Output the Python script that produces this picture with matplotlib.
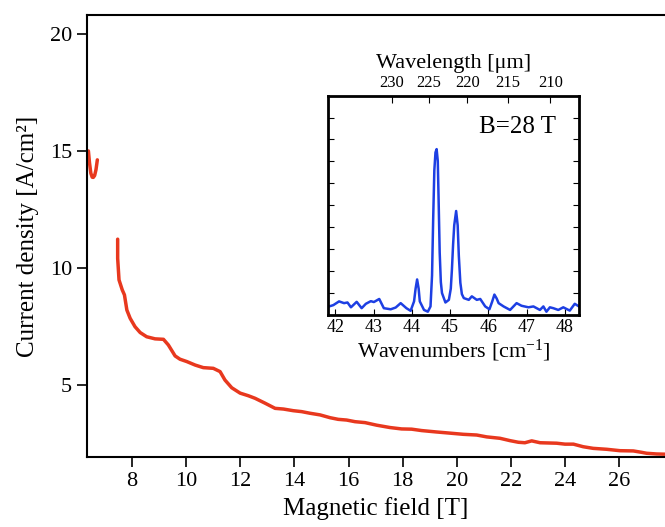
import numpy as np
import matplotlib
matplotlib.use("Agg")
import matplotlib.pyplot as plt

plt.rcParams['font.family'] = ['Liberation Serif', 'DejaVu Serif']
plt.rcParams['mathtext.fontset'] = 'custom'
plt.rcParams['mathtext.rm'] = 'Liberation Serif'
plt.rcParams['mathtext.it'] = 'Liberation Serif:italic'

# current density vs magnetic field (two pieces)
field_a = [6.40, 6.44, 6.49, 6.54, 6.58, 6.63, 6.68, 6.71, 6.73]
density_a = [15.0, 14.5, 14.05, 13.88, 13.87, 13.95, 14.2, 14.45, 14.62]

field_b = [7.48, 7.48, 7.53, 7.65, 7.73, 7.82, 7.94, 8.12, 8.31, 8.55, 8.86, 9.17,
           9.35, 9.60, 9.78, 10.03, 10.34, 10.64, 11.01, 11.26, 11.44, 11.69, 12.00,
           12.30, 12.55, 12.92, 13.29, 13.60, 13.96, 14.27, 14.58, 14.95, 15.32,
           15.62, 15.93, 16.24, 16.61, 17.04, 17.53, 17.96, 18.33, 18.70, 19.25,
           19.75, 20.24, 20.73, 21.10, 21.59, 21.96, 22.27, 22.51, 22.76, 23.07,
           23.68, 23.99, 24.30, 24.66, 25.03, 25.53, 26.02, 26.51, 26.82, 27.00,
           27.37, 27.70]
density_b = [11.23, 10.41, 9.49, 9.06, 8.85, 8.20, 7.85, 7.49, 7.24, 7.06, 6.97, 6.95,
             6.71, 6.24, 6.10, 6.00, 5.85, 5.74, 5.71, 5.57, 5.21, 4.88, 4.65,
             4.54, 4.43, 4.22, 4.00, 3.97, 3.90, 3.86, 3.79, 3.72, 3.60,
             3.53, 3.50, 3.43, 3.39, 3.28, 3.18, 3.12, 3.11, 3.05, 2.99,
             2.94, 2.89, 2.86, 2.78, 2.72, 2.62, 2.55, 2.53, 2.61, 2.53,
             2.51, 2.47, 2.47, 2.36, 2.29, 2.25, 2.19, 2.18, 2.12, 2.08,
             2.05, 2.04]

# inset spectrum at B = 28 T
wavenumber = [41.84, 41.95, 42.10, 42.23, 42.32, 42.41, 42.56, 42.69, 42.80, 42.93,
              43.01, 43.15, 43.27, 43.45, 43.58, 43.71, 43.86, 43.97, 44.06, 44.10,
              44.14, 44.18, 44.21, 44.32, 44.42, 44.49, 44.53, 44.56, 44.59, 44.62,
              44.65, 44.68, 44.70, 44.73, 44.76, 44.79, 44.88, 44.97, 45.02, 45.05,
              45.08, 45.11, 45.16, 45.20, 45.23, 45.27, 45.31, 45.36, 45.49, 45.57,
              45.70, 45.79, 45.92, 46.03, 46.10, 46.16, 46.22, 46.27, 46.40, 46.57,
              46.74, 46.87, 47.05, 47.18, 47.35, 47.44, 47.52, 47.61, 47.70, 47.83,
              47.96, 48.13, 48.26, 48.37]
intensity = [0.39, 0.45, 0.62, 0.54, 0.57, 0.35, 0.60, 0.31, 0.51, 0.63,
             0.59, 0.73, 0.31, 0.26, 0.34, 0.54, 0.31, 0.19, 0.62, 1.20,
             1.62, 1.20, 0.62, 0.23, 0.15, 0.39, 1.80, 4.40, 6.60, 7.41,
             7.56, 7.02, 5.40, 2.85, 1.50, 1.00, 0.57, 0.69, 1.20, 2.08,
             3.20, 4.09, 4.74, 4.09, 2.70, 1.47, 0.95, 0.77, 0.69, 0.85,
             0.69, 0.73, 0.39, 0.26, 0.60, 0.93, 0.75, 0.54, 0.39, 0.23,
             0.54, 0.42, 0.35, 0.39, 0.23, 0.39, 0.15, 0.35, 0.31, 0.23,
             0.35, 0.20, 0.51, 0.39]

x_ticks = [8, 10, 12, 14, 16, 18, 20, 22, 24, 26]
y_ticks = [5, 10, 15, 20]
inset_ticks = [42, 43, 44, 45, 46, 47, 48]
wavelength_ticks = [230, 225, 220, 215, 210]

red = '#e8381e'
blue = '#1d3fe3'

fig = plt.figure(figsize=(6.65, 5.27), dpi=100)
ax = fig.add_axes([0.1313, 0.1328, 0.8687, 0.8387])
ax.plot(field_a, density_a, color=red, lw=2.5, solid_capstyle='round')
ax.plot(field_b, density_b, color=red, lw=2.5, solid_capstyle='round',
        solid_joinstyle='round')
ax.set_xlim(6.36, 27.68)
ax.set_ylim(1.92, 20.81)
ax.set_xticks(x_ticks)
ax.set_yticks(y_ticks)
ax.tick_params(direction='out', length=7, width=1.2, labelsize=16, pad=4)
ax.spines['right'].set_visible(False)
for s in ['left', 'bottom', 'top']:
    ax.spines[s].set_linewidth(1.5)
ax.set_xlabel('Magnetic field [T]', fontsize=18, labelpad=4)
ax.set_ylabel('Current density [A/cm²]', fontsize=18, labelpad=8)

# inset
ins = fig.add_axes([0.4932, 0.4023, 0.3774, 0.4163])
ins.plot(wavenumber, intensity, color=blue, lw=1.8, solid_joinstyle='round')
ins.set_xlim(41.81, 48.37)
ins.set_ylim(0, 10)
ins.set_xticks(inset_ticks)
ins.set_yticks(range(1, 10))
ins.tick_params(axis='y', direction='in', length=4, width=0.8, left=True, right=True,
                labelleft=False)
ins.tick_params(axis='x', direction='in', length=4, width=0.8, labelsize=13, pad=3)
for s in ins.spines.values():
    s.set_linewidth(2)
ins.set_xlabel(r'Wavenumbers [cm$^{-1}$]', fontsize=16, labelpad=1)
ins.text(0.91, 0.855, 'B=28 T', transform=ins.transAxes, fontsize=18,
         ha='right', va='center')

top = ins.secondary_xaxis('top', functions=(lambda k: 1e4 / k, lambda w: 1e4 / w))
top.set_xticks(wavelength_ticks)
top.tick_params(direction='in', length=5, width=0.8, labelsize=12, pad=3)
top.set_xlabel('Wavelength [μm]', fontsize=16, labelpad=5)

fig.savefig('out.png', dpi=100)
